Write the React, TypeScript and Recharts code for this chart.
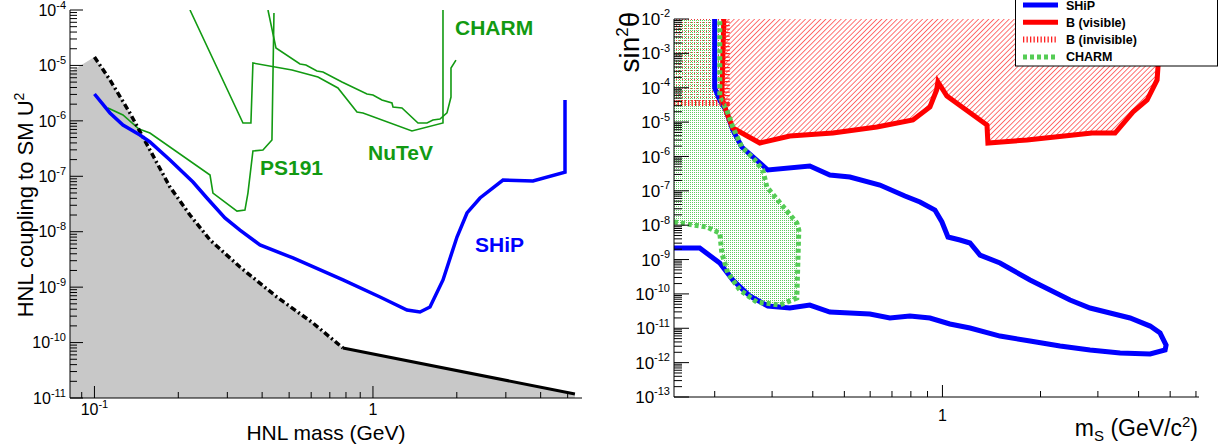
import React from 'react';
import { ComposedChart, Line, Area, XAxis, YAxis, Legend } from 'recharts';

const FONT = '"Liberation Sans", Arial, Helvetica, sans-serif';

// ---------------- Left panel: HNL ----------------
const hnlMassDomain = [0.0817, 5.63];
const hnlCouplingDomain = [1e-11, 1e-4];
const hnlMassTicks = [0.09, 0.1, 0.2, 0.3, 0.4, 0.5, 0.6, 0.7, 0.8, 0.9, 1, 2, 3, 4, 5];
const hnlMassLabels = [
  { value: 0.1, base: '10', exp: '-1' },
  { value: 1, base: '1', exp: '' },
];
const hnlCouplingDecades = [-11, -10, -9, -8, -7, -6, -5, -4];

const bbnLeftEdge = [{ x: 0.0817, y: 7.6e-6 }];
const bbnLine = [
  { x: 0.1, y: 1.42e-5 },
  { x: 0.1137, y: 5.46e-6 },
  { x: 0.134, y: 1.39e-6 },
  { x: 0.1582, y: 2.98e-7 },
  { x: 0.1867, y: 6.41e-8 },
  { x: 0.2203, y: 2.0e-8 },
  { x: 0.26, y: 7.1e-9 },
  { x: 0.333, y: 2.31e-9 },
  { x: 0.452, y: 6.64e-10 },
  { x: 0.609, y: 2.25e-10 },
  { x: 0.78, y: 7.98e-11 },
];
const seesawLine = [
  { x: 0.78, y: 7.98e-11 },
  { x: 5.31, y: 1.18e-11 },
];

const shipHnl = [
  { x: 0.1, y: 3.05e-6 },
  { x: 0.1137, y: 1.39e-6 },
  { x: 0.1266, y: 8.42e-7 },
  { x: 0.1457, y: 5.56e-7 },
  { x: 0.1582, y: 4.16e-7 },
  { x: 0.1867, y: 1.97e-7 },
  { x: 0.2258, y: 7.89e-8 },
  { x: 0.2534, y: 4.06e-8 },
  { x: 0.2941, y: 1.77e-8 },
  { x: 0.333, y: 1.07e-8 },
  { x: 0.3929, y: 5.76e-9 },
  { x: 0.5161, y: 3.36e-9 },
  { x: 0.7805, y: 1.35e-9 },
  { x: 1.06, y: 6.64e-10 },
  { x: 1.325, y: 3.87e-10 },
  { x: 1.475, y: 3.56e-10 },
  { x: 1.602, y: 4.38e-10 },
  { x: 1.784, y: 1.35e-9 },
  { x: 2.003, y: 8.03e-9 },
  { x: 2.176, y: 2.18e-8 },
  { x: 2.423, y: 4.06e-8 },
  { x: 2.93, y: 8.57e-8 },
  { x: 3.753, y: 8.22e-8 },
  { x: 4.892, y: 1.19e-7 },
  { x: 4.892, y: 2.38e-6 },
];

const greenContourA = [
  { x: 0.2203, y: 1e-4 },
  { x: 0.3414, y: 9.15e-7 },
  { x: 0.3646, y: 9.15e-7 },
  { x: 0.3707, y: 1.106e-5 },
  { x: 0.512, y: 8.27e-6 },
  { x: 0.6347, y: 6.18e-6 },
  { x: 0.7485, y: 3.92e-6 },
  { x: 0.8761, y: 1.44e-6 },
  { x: 0.9207, y: 1.39e-6 },
  { x: 1.38, y: 6.56e-7 },
  { x: 1.784, y: 9.15e-7 },
  { x: 1.784, y: 1e-4 },
];
const greenContourB = [
  { x: 0.4198, y: 1e-4 },
  { x: 0.4484, y: 2.06e-5 },
  { x: 0.5469, y: 1.06e-5 },
  { x: 0.5746, y: 1.018e-5 },
  { x: 0.6292, y: 7.93e-6 },
  { x: 0.6613, y: 7.61e-6 },
  { x: 0.774, y: 5.02e-6 },
  { x: 0.9517, y: 3.05e-6 },
  { x: 1.0, y: 2.93e-6 },
  { x: 1.077, y: 2.38e-6 },
  { x: 1.17, y: 2.1e-6 },
  { x: 1.18, y: 1.78e-6 },
  { x: 1.271, y: 1.71e-6 },
  { x: 1.451, y: 9.15e-7 },
  { x: 1.563, y: 9.15e-7 },
  { x: 1.642, y: 1.036e-6 },
  { x: 1.74, y: 1.08e-6 },
  { x: 1.844, y: 1.39e-6 },
  { x: 1.906, y: 2.69e-6 },
  { x: 1.906, y: 8.99e-6 },
  { x: 1.986, y: 1.25e-5 },
];
const greenContourC = [
  { x: 0.4411, y: 8.83e-5 },
  { x: 0.4338, y: 4.52e-7 },
  { x: 0.4027, y: 2.98e-7 },
  { x: 0.3707, y: 2.86e-7 },
  { x: 0.3557, y: 4.99e-8 },
  { x: 0.347, y: 2.46e-8 },
  { x: 0.3249, y: 2.36e-8 },
  { x: 0.2664, y: 4.99e-8 },
  { x: 0.26, y: 1.055e-7 },
  { x: 0.1582, y: 6.04e-7 },
  { x: 0.1445, y: 7.13e-7 },
  { x: 0.1266, y: 1.275e-6 },
  { x: 0.1118, y: 1.71e-6 },
];

// ---------------- Right panel: scalar ----------------
const scalarMassDomain = [0.15, 6.13];
const sinDomain = [1e-13, 1e-2];
const scalarMassTicks = [0.2, 0.3, 0.4, 0.5, 0.6, 0.7, 0.8, 0.9, 1, 2, 3, 4, 5, 6];
const scalarMassLabels = [{ value: 1, base: '1', exp: '' }];
const sinDecades = [-13, -12, -11, -10, -9, -8, -7, -6, -5, -4, -3, -2];

const shipScalar = [
  { x: 0.2, y: 1e-2 },
  { x: 0.2, y: 9.81e-5 },
  { x: 0.2073, y: 4.39e-5 },
  { x: 0.2163, y: 2.25e-5 },
  { x: 0.2273, y: 5.88e-6 },
  { x: 0.2422, y: 1.88e-6 },
  { x: 0.2911, y: 4.03e-7 },
  { x: 0.3917, y: 5.27e-7 },
  { x: 0.4513, y: 2.88e-7 },
  { x: 0.5199, y: 2.52e-7 },
  { x: 0.6427, y: 1.47e-7 },
  { x: 0.7672, y: 7.06e-8 },
  { x: 0.8531, y: 4.72e-8 },
  { x: 0.9484, y: 2.76e-8 },
  { x: 0.9965, y: 1.24e-8 },
  { x: 1.04, y: 4.52e-9 },
  { x: 1.132, y: 3.7e-9 },
  { x: 1.215, y: 3.03e-9 },
  { x: 1.304, y: 1.35e-9 },
  { x: 1.502, y: 7.92e-10 },
  { x: 1.857, y: 2.54e-10 },
  { x: 2.139, y: 1.3e-10 },
  { x: 2.464, y: 6.64e-11 },
  { x: 2.838, y: 3.88e-11 },
  { x: 3.269, y: 2.78e-11 },
  { x: 3.766, y: 1.99e-11 },
  { x: 4.339, y: 1.16e-11 },
  { x: 4.656, y: 7.27e-12 },
  { x: 4.858, y: 3.25e-12 },
  { x: 4.824, y: 2.33e-12 },
  { x: 4.339, y: 1.78e-12 },
  { x: 3.51, y: 1.9e-12 },
  { x: 2.838, y: 2.33e-12 },
  { x: 2.296, y: 3.04e-12 },
  { x: 1.857, y: 4.25e-12 },
  { x: 1.502, y: 5.94e-12 },
  { x: 1.215, y: 1.02e-11 },
  { x: 1.054, y: 1.33e-11 },
  { x: 0.9154, y: 1.99e-11 },
  { x: 0.7946, y: 2.27e-11 },
  { x: 0.6898, y: 1.99e-11 },
  { x: 0.5988, y: 2.6e-11 },
  { x: 0.5199, y: 2.78e-11 },
  { x: 0.4513, y: 2.97e-11 },
  { x: 0.3917, y: 4.75e-11 },
  { x: 0.3401, y: 3.88e-11 },
  { x: 0.2911, y: 4.44e-11 },
  { x: 0.2563, y: 8.68e-11 },
  { x: 0.2273, y: 2.54e-10 },
  { x: 0.2073, y: 7.92e-10 },
  { x: 0.1799, y: 2.16e-9 },
  { x: 0.15, y: 2.16e-9 },
];

const bVisible = [
  { x: 0.2133, y: 1e-2 },
  { x: 0.2103, y: 5.37e-5 },
  { x: 0.2178, y: 1.84e-5 },
  { x: 0.2273, y: 6.73e-6 },
  { x: 0.2751, y: 2.46e-6 },
  { x: 0.3401, y: 3.93e-6 },
  { x: 0.461, y: 4.81e-6 },
  { x: 0.6292, y: 7.19e-6 },
  { x: 0.8117, y: 1.15e-5 },
  { x: 0.9154, y: 2.75e-5 },
  { x: 0.9598, y: 8.58e-5 },
  { x: 0.9687, y: 1.47e-4 },
  { x: 1.032, y: 5.74e-5 },
  { x: 1.37, y: 8.22e-6 },
  { x: 1.379, y: 2.46e-6 },
  { x: 1.817, y: 3.01e-6 },
  { x: 2.879, y: 4.81e-6 },
  { x: 3.387, y: 4.81e-6 },
  { x: 3.847, y: 1.97e-5 },
  { x: 4.248, y: 4.39e-5 },
  { x: 4.558, y: 1.68e-4 },
  { x: 4.59, y: 4.29e-4 },
  { x: 4.59, y: 1e-2 },
];

const bInvisible = [
  { x: 0.15, y: 3.59e-5 },
  { x: 0.2178, y: 3.59e-5 },
  { x: 0.2178, y: 1e-2 },
];

const charmScalar = [
  { x: 0.15, y: 1.24e-8 },
  { x: 0.1891, y: 8.84e-9 },
  { x: 0.2073, y: 5.91e-9 },
  { x: 0.2103, y: 1.55e-9 },
  { x: 0.2194, y: 4.05e-10 },
  { x: 0.2388, y: 1.3e-10 },
  { x: 0.2693, y: 5.8e-11 },
  { x: 0.3169, y: 4.75e-11 },
  { x: 0.3573, y: 7.59e-11 },
  { x: 0.3624, y: 7.23e-9 },
  { x: 0.3573, y: 1.16e-8 },
  { x: 0.2891, y: 1.29e-7 },
  { x: 0.281, y: 4.03e-7 },
  { x: 0.2655, y: 7.88e-7 },
  { x: 0.2422, y: 1.88e-6 },
  { x: 0.2273, y: 7.19e-6 },
  { x: 0.2178, y: 2.25e-5 },
  { x: 0.2073, y: 5.37e-5 },
  { x: 0.2073, y: 1e-2 },
];

const legendItems = [
  { name: 'SHiP', color: '#0000ff', dash: '', width: 5 },
  { name: 'B (visible)', color: '#ff0000', dash: '', width: 5 },
  { name: 'B (invisible)', color: '#ff2020', dash: '1.3 2.2', width: 6 },
  { name: 'CHARM', color: '#55cc55', dash: '4 3', width: 5 },
];

// ---------------- helpers ----------------
const logTicks = (decades: number[]) => {
  const out: number[] = [];
  decades.forEach((d, i) => {
    out.push(Math.pow(10, d));
    if (i < decades.length - 1) {
      for (let k = 2; k <= 9; k++) out.push(k * Math.pow(10, d));
    }
  });
  return out;
};

const makeYTick = (majorLen: number, minorLen: number, fs: number, sup: number) => (props: any) => {
  const { x, y, payload } = props;
  const v = payload.value;
  const lg = Math.log10(v);
  const e = Math.round(lg);
  const major = Math.abs(lg - e) < 1e-6;
  return (
    <g>
      <line x1={x} x2={x + (major ? majorLen : minorLen)} y1={y} y2={y} stroke="#000" strokeWidth={1} />
      {major ? (
        <text x={x - 4} y={y + fs * 0.36} textAnchor="end" fontSize={fs} fontFamily={FONT} fill="#000">
          10
          <tspan dy={-fs * 0.45} fontSize={sup}>
            {String(e)}
          </tspan>
        </text>
      ) : null}
    </g>
  );
};

const makeXTick = (
  labels: { value: number; base: string; exp: string }[],
  majorLen: number,
  minorLen: number,
  fs: number,
  sup: number,
  dy: number
) => (props: any) => {
  const { x, y, payload } = props;
  const v = payload.value;
  const lab = labels.find((l) => Math.abs(l.value - v) < 1e-9);
  return (
    <g>
      <line x1={x} x2={x} y1={y} y2={y - (lab ? majorLen : minorLen)} stroke="#000" strokeWidth={1} />
      {lab ? (
        <text x={x} y={y + dy} textAnchor="middle" fontSize={fs} fontFamily={FONT} fill="#000">
          {lab.base}
          {lab.exp ? (
            <tspan dy={-fs * 0.45} fontSize={sup}>
              {lab.exp}
            </tspan>
          ) : null}
        </text>
      ) : null}
    </g>
  );
};

const renderLegend = () => (
  <svg width={204} height={71} style={{ display: 'block' }}>
    <rect x={0.5} y={0.5} width={202} height={69.5} fill="#fff" stroke="#000" strokeWidth={1} />
    {legendItems.map((it, i) => {
      const cy = 9 + i * 17.3;
      return (
        <g key={it.name}>
          <line x1={8} x2={43} y1={cy} y2={cy} stroke={it.color} strokeWidth={it.width} strokeDasharray={it.dash || undefined} />
          <text x={51} y={cy + 4.5} fontSize={12.5} fontWeight="bold" fontFamily={FONT} fill="#000">
            {it.name}
          </text>
        </g>
      );
    })}
  </svg>
);

const GREEN = '#129a12';
const labelStyle = { fontFamily: FONT, fontWeight: 'bold' as const, fontSize: 21 };

export default function App() {
  const bbnArea = [...bbnLeftEdge, ...bbnLine, ...seesawLine.slice(1)];
  const leftYTicks = logTicks(hnlCouplingDecades);
  const rightYTicks = logTicks(sinDecades);

  return (
    <div style={{ position: 'absolute', left: 0, top: 0, width: 1224, height: 446, background: '#fff', overflow: 'hidden' }}>
      {/* Left panel */}
      <div style={{ position: 'absolute', left: 0, top: 0 }}>
        <ComposedChart width={600} height={446} margin={{ top: 10, right: 18, bottom: 0, left: 0 }}>
          <Area data={bbnArea} dataKey="y" baseValue={1e-11} fill="#c8c8c8" fillOpacity={1} stroke="none" isAnimationActive={false} />
          <Line data={greenContourA} dataKey="y" stroke={GREEN} strokeWidth={1.6} dot={false} activeDot={false} isAnimationActive={false} />
          <Line data={greenContourB} dataKey="y" stroke={GREEN} strokeWidth={1.6} dot={false} activeDot={false} isAnimationActive={false} />
          <Line data={greenContourC} dataKey="y" stroke={GREEN} strokeWidth={1.6} dot={false} activeDot={false} isAnimationActive={false} />
          <Line data={bbnLine} dataKey="y" stroke="#000" strokeWidth={3.5} strokeDasharray="6 3 2 3" dot={false} activeDot={false} isAnimationActive={false} />
          <Line data={seesawLine} dataKey="y" stroke="#000" strokeWidth={3} dot={false} activeDot={false} isAnimationActive={false} />
          <Line data={shipHnl} dataKey="y" stroke="#0000ff" strokeWidth={3.5} dot={false} activeDot={false} isAnimationActive={false} />
          <XAxis
            dataKey="x"
            type="number"
            scale="log"
            domain={hnlMassDomain}
            allowDataOverflow
            ticks={hnlMassTicks}
            interval={0}
            tick={makeXTick(hnlMassLabels, 12, 6, 16, 11, 17)}
            tickLine={false}
            tickSize={0}
            tickMargin={0}
            height={48}
            axisLine={{ stroke: '#000' }}
          />
          <YAxis
            type="number"
            scale="log"
            domain={hnlCouplingDomain}
            allowDataOverflow
            ticks={leftYTicks}
            interval={0}
            tick={makeYTick(13, 7, 16, 11)}
            tickLine={false}
            tickSize={0}
            tickMargin={0}
            width={70}
            axisLine={{ stroke: '#000' }}
          />
          <XAxis xAxisId="top" orientation="top" type="number" scale="log" domain={hnlMassDomain} allowDataOverflow height={0} tick={false} tickLine={false} axisLine={{ stroke: '#888' }} />
          <YAxis yAxisId="right" orientation="right" type="number" scale="log" domain={hnlCouplingDomain} allowDataOverflow width={0} tick={false} tickLine={false} axisLine={{ stroke: '#888' }} />
          <text x={455} y={35} fill={GREEN} {...labelStyle}>CHARM</text>
          <text x={260} y={175} fill={GREEN} {...labelStyle}>PS191</text>
          <text x={368} y={160} fill={GREEN} {...labelStyle}>NuTeV</text>
          <text x={475} y={252} fill="#0000ff" {...labelStyle}>SHiP</text>
          <text x={138} y={245} fill="#000" fontStyle="italic" {...labelStyle}>BBN</text>
          <text x={286} y={377} fill="#000" fontStyle="italic" {...labelStyle}>Seesaw</text>
          <text x={326} y={440} textAnchor="middle" fontSize={21} fontFamily={FONT} fill="#000">HNL mass (GeV)</text>
          <text transform="translate(33,205) rotate(-90)" textAnchor="middle" fontSize={22} fontFamily={FONT} fill="#000">
            HNL coupling to SM U<tspan dy={-9} fontSize={14}>2</tspan>
          </text>
        </ComposedChart>
      </div>

      {/* Right panel */}
      <div style={{ position: 'absolute', left: 600, top: 0 }}>
        <ComposedChart width={624} height={446} margin={{ top: 19, right: 25, bottom: 0, left: 0 }}>
          <defs>
            <pattern id="charmDots" width="2" height="2" patternUnits="userSpaceOnUse">
              <rect width="2" height="2" fill="#ffffff" />
              <rect width="1" height="1" fill="#5fcc5f" />
            </pattern>
            <pattern id="invisDots" width="3" height="3" patternUnits="userSpaceOnUse">
              <rect x="1" y="1" width="1" height="1" fill="#e83c3c" />
            </pattern>
            <pattern id="redHatch" width="3.6" height="3.6" patternUnits="userSpaceOnUse" patternTransform="rotate(45)">
              <line x1="0" y1="0" x2="0" y2="3.6" stroke="#ff0000" strokeWidth="1.1" />
            </pattern>
          </defs>
          <Area data={charmScalar} dataKey="y" baseValue={1e-2} fill="url(#charmDots)" fillOpacity={1} stroke="none" isAnimationActive={false} />
          <Area data={bInvisible} dataKey="y" baseValue={1e-2} fill="url(#invisDots)" fillOpacity={1} stroke="none" isAnimationActive={false} />
          <Area data={bVisible} dataKey="y" baseValue={1e-2} fill="url(#redHatch)" fillOpacity={1} stroke="none" isAnimationActive={false} />
          <Line data={shipScalar} dataKey="y" stroke="#0000ff" strokeWidth={5} dot={false} activeDot={false} isAnimationActive={false} />
          <Line data={bVisible} dataKey="y" stroke="#ff0000" strokeWidth={5} dot={false} activeDot={false} isAnimationActive={false} />
          <Line data={charmScalar} dataKey="y" stroke="#55cc55" strokeWidth={5} strokeDasharray="4 3" dot={false} activeDot={false} isAnimationActive={false} />
          <Line data={bInvisible} dataKey="y" stroke="#ff2020" strokeWidth={6} strokeDasharray="1.3 2.2" dot={false} activeDot={false} isAnimationActive={false} />
          <XAxis
            dataKey="x"
            type="number"
            scale="log"
            domain={scalarMassDomain}
            allowDataOverflow
            ticks={scalarMassTicks}
            interval={0}
            tick={makeXTick(scalarMassLabels, 12, 6, 16, 10, 24)}
            tickLine={false}
            tickSize={0}
            tickMargin={0}
            height={49}
            axisLine={{ stroke: '#000' }}
          />
          <YAxis
            type="number"
            scale="log"
            domain={sinDomain}
            allowDataOverflow
            ticks={rightYTicks}
            interval={0}
            tick={makeYTick(15, 8, 17, 11)}
            tickLine={false}
            tickSize={0}
            tickMargin={0}
            width={74}
            axisLine={{ stroke: '#000' }}
          />
          <XAxis xAxisId="top" orientation="top" type="number" scale="log" domain={scalarMassDomain} allowDataOverflow height={0} tick={false} tickLine={false} axisLine={{ stroke: '#000' }} />
          <YAxis yAxisId="right" orientation="right" type="number" scale="log" domain={sinDomain} allowDataOverflow width={0} tick={false} tickLine={false} axisLine={{ stroke: '#888' }} />
          <text transform="translate(39,42) rotate(-90)" textAnchor="middle" fontSize={28} fontFamily={FONT} fill="#000">
            sin<tspan dy={-11} fontSize={17}>2</tspan><tspan dy={11}>θ</tspan>
          </text>
          <text x={598} y={436} textAnchor="end" fontSize={23} fontFamily={FONT} fill="#000">
            m<tspan dy={5} fontSize={15}>S</tspan><tspan dy={-5}> (GeV/c</tspan><tspan dy={-9} fontSize={15}>2</tspan><tspan dy={9}>)</tspan>
          </text>
          <Legend
            layout="vertical"
            align="center"
            verticalAlign="middle"
            content={renderLegend}
            wrapperStyle={{ left: 415, top: -4, width: 204, height: 71 }}
          />
        </ComposedChart>
      </div>
    </div>
  );
}
